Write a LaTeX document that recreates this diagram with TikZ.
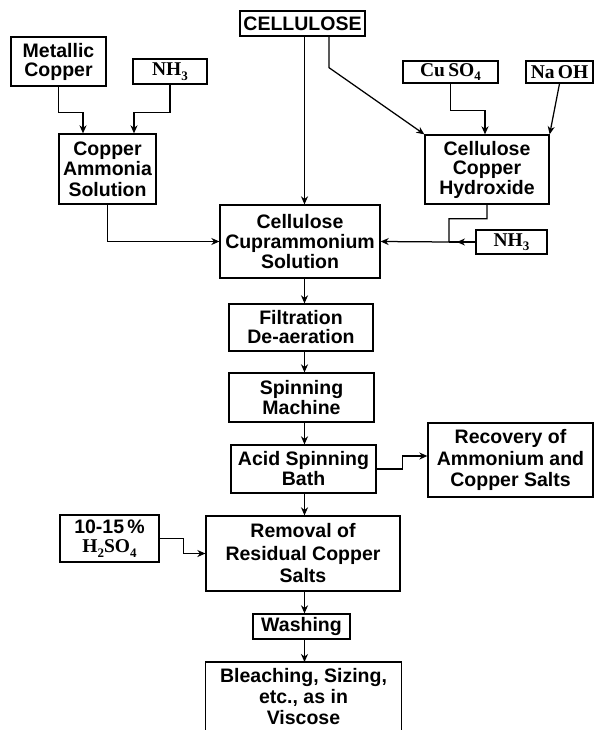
\documentclass[tikz,border=0pt]{standalone}
\usepackage{fontspec}
\setmainfont{Liberation Sans}
\newfontfamily\chem{Liberation Serif}
\usetikzlibrary{arrows.meta,decorations.markings}
\newcommand\fs[1]{\fontsize{19.5}{#1}\selectfont}
\newcommand\sbs[1]{\raisebox{-4.5pt}{\fontsize{13}{13}\selectfont #1}}
\begin{document}
\begin{tikzpicture}[x=1pt,y=-1pt,
  box/.style={draw,line width=1.3pt,inner sep=0pt,align=center,font=\fs{20}\bfseries},
  conn/.style={line width=1.25pt,-{Stealth[length=8pt,width=7pt,inset=2.5pt]}},
  plain/.style={line width=1.25pt}]
\useasboundingbox (0,0) rectangle (594,730);

\node[box,minimum width=125,minimum height=25] (cell) at (302.5,23.5) {CELLULOSE};
\node[box,minimum width=95,minimum height=49,font=\fs{19}\bfseries] (metal) at (58.5,61.5) {Metallic\\Copper};
\node[box,minimum width=74,minimum height=25] (nhL) at (170,71.5) {{\chem NH\sbs{3}}};
\node[box,minimum width=97,minimum height=70,font=\fs{20.5}\bfseries] (cam) at (107.5,169) {Copper\\Ammonia\\Solution};
\node[box,minimum width=160,minimum height=73] (ccs) at (300,241.5) {Cellulose\\Cuprammonium\\Solution};
\node[box,minimum width=95,minimum height=22] (cuso) at (450.5,72) {{\chem Cu\,SO\sbs{4}}};
\node[box,minimum width=67,minimum height=22] (naoh) at (559.5,72) {{\chem Na\,OH}};
\node[box,minimum width=124,minimum height=69,font=\fs{19.5}\bfseries] (cch) at (487,169.5) {Cellulose\\Copper\\Hydroxide};
\node[box,minimum width=71,minimum height=24] (nhR) at (511.5,242) {{\chem NH\sbs{3}}};
\node[box,minimum width=144,minimum height=47,font=\fs{19}\bfseries] (filt) at (301,327.5) {Filtration\\De-aeration};
\node[box,minimum width=145,minimum height=49,font=\fs{19.5}\bfseries] (spin) at (301.5,397.5) {Spinning\\Machine};
\node[box,minimum width=145,minimum height=48] (acid) at (303.5,469) {Acid Spinning\\Bath};
\node[box,minimum width=165,minimum height=74,font=\fs{21.5}\bfseries] (rec) at (510.5,460) {Recovery of\\Ammonium and\\Copper Salts};
\node[box,minimum width=194,minimum height=75,font=\fs{22.5}\bfseries] (rem) at (303,553.5) {Removal of\\Residual Copper\\Salts};
\node[box,minimum width=99,minimum height=47,font=\fs{19}\bfseries] (h2so) at (109.5,538.5) {10-15\,\%\\{\chem H\sbs{2}SO\sbs{4}}};
\node[box,minimum width=97,minimum height=25] (wash) at (301.5,626.5) {Washing};
\node[box,draw=none,anchor=north,minimum width=195,inner ysep=6pt,font=\fs{21}\bfseries] (bleach) at (303.5,662) {Bleaching, Sizing,\\etc., as in\\Viscose};
\draw[line width=1.3pt] ([yshift=-80pt]bleach.north west) -- (bleach.north west) -- (bleach.north east) -- ([yshift=-80pt]bleach.north east);

\coordinate (ax) at (304.5,0);
\coordinate (j) at (449,242);

\draw[conn] (metal.south) -- ++(0,26) -| ([xshift=-24.5pt]cam.north);
\draw[conn] (nhL.south) -- ++(0,28) -| ([xshift=26.5pt]cam.north);
\draw[conn] (cam.south) |- (ccs.west);
\draw[conn] (cell.south -| ax) -- (ccs.north -| ax);
\draw[conn] ([xshift=26.5pt]cell.south) -- ++(0,31) -- (cch.north west);
\draw[conn] (cuso.south) -- ++(0,27) -| ([xshift=-2pt]cch.north);
\draw[conn] (naoh.south) -- (cch.north east);
\draw[conn] (cch.south) -- ++(0,14) -| (j) -- (ccs.east);
\draw[plain,postaction={decorate},decoration={markings,mark=at position 0.7 with {\arrow{Stealth[length=8pt,width=7pt,inset=2.5pt]}}}] (nhR.west) -- (j);

\draw[conn] (ccs.south -| ax) -- (filt.north -| ax);
\draw[conn] (filt.south -| ax) -- (spin.north -| ax);
\draw[conn] (spin.south -| ax) -- (acid.north -| ax);
\draw[conn] (acid.south -| ax) -- (rem.north -| ax);
\draw[conn] (rem.south -| ax) -- (wash.north -| ax);
\draw[conn] (wash.south -| ax) -- (bleach.north -| ax);
\draw[conn] (acid.east) -- ++(26,0) |- ([yshift=4pt]rec.west);
\draw[conn] (h2so.east) -- ++(24,0) |- (rem.west);
\end{tikzpicture}
\end{document}
